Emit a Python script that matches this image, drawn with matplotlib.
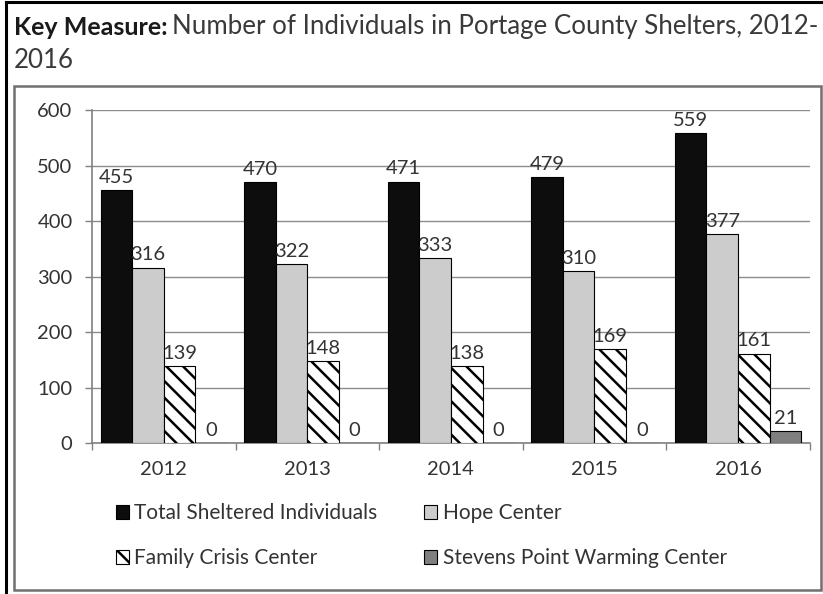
import matplotlib
matplotlib.use('Agg')
import matplotlib.pyplot as plt
import numpy as np
from matplotlib.patches import Rectangle
from matplotlib.lines import Line2D

# data
years = ['2012', '2013', '2014', '2015', '2016']
total = [455, 470, 471, 479, 559]
hope = [316, 322, 333, 310, 377]
family = [139, 148, 138, 169, 161]
warming = [0, 0, 0, 0, 21]

plt.rcParams['font.family'] = ['Lato', 'DejaVu Sans']
plt.rcParams['hatch.linewidth'] = 1.8

fig = plt.figure(figsize=(8.23, 5.94), dpi=100)
ax = fig.add_axes([0.1118, 0.2542, 0.8722, 0.5606])

x = np.arange(len(years))
w = 0.22
txt = '#333333'

b1 = ax.bar(x - 1.5*w, total, w, color='#0d0d0d', edgecolor='#000000', lw=0.8,
            label='Total Sheltered Individuals', zorder=3)
b2 = ax.bar(x - 0.5*w, hope, w, color='#cccccc', edgecolor='#000000', lw=0.8,
            label='Hope Center', zorder=3)
b3 = ax.bar(x + 0.5*w, family, w, color='white', edgecolor='#000000', lw=0.8,
            hatch='\\\\', label='Family Crisis Center', zorder=3)
b4 = ax.bar(x + 1.5*w, warming, w, color='#7f7f7f', edgecolor='#000000', lw=0.8,
            label='Stevens Point Warming Center', zorder=3)

for bars in (b1, b2, b3, b4):
    for r in bars:
        h = r.get_height()
        ax.annotate(str(int(h)), (r.get_x() + r.get_width()/2, h),
                    xytext=(0, 3), textcoords='offset points',
                    ha='center', va='bottom', fontsize=14.5, color=txt, zorder=4)

ax.set_xlim(-0.5, 4.5)
ax.set_ylim(0, 600)
ax.set_yticks(range(0, 601, 100))
ax.yaxis.grid(True, color='#8c8c8c', lw=1.0, zorder=0)
ax.set_axisbelow(True)

ax.set_xticks(x)
ax.set_xticklabels(years)
ax.set_xticks(np.arange(-0.5, 5, 1), minor=True)
ax.tick_params(axis='x', which='major', length=0, pad=13, labelsize=14.5, labelcolor=txt)
ax.tick_params(axis='x', which='minor', length=5, width=1, color='#808080', direction='out')
ax.tick_params(axis='y', length=5, width=1, color='#808080', labelsize=14.5,
               labelcolor=txt, pad=9)

for s in ('top', 'right'):
    ax.spines[s].set_visible(False)
for s in ('left', 'bottom'):
    ax.spines[s].set_color('#808080')
    ax.spines[s].set_linewidth(1.2)

# legend: row 1 Total, Hope; row 2 Family, Stevens
handles = [b1, b3, b2, b4]
labels = [h.get_label() for h in handles]
fig.legend(handles, labels, ncol=2, loc='upper left',
           bbox_to_anchor=(0.128, 0.17), frameon=False, fontsize=15,
           borderpad=0, handlelength=0.63, handleheight=0.63, handletextpad=0.25,
           labelspacing=1.2, columnspacing=2.25, labelcolor=txt)

# inner chart box and outer frame
fig.patches.append(Rectangle((0.017, 0.0067), 0.9806, 0.8483, transform=fig.transFigure,
                             fill=False, edgecolor='#707070', lw=1.8, zorder=0))
fig.lines.append(Line2D([0.0073, 0.0073], [0, 0.997], transform=fig.transFigure,
                        color='black', lw=2.2))
fig.lines.append(Line2D([0.0073, 1.0], [0.997, 0.997], transform=fig.transFigure,
                        color='black', lw=2.2))

# title
t1 = fig.text(0.017, 0.941, 'Key Measure:', fontsize=18, fontweight='bold',
              color='#1a1a1a', va='baseline')
ax.annotate('Number of Individuals in Portage County Shelters, 2012-',
            xy=(1, 0), xycoords=t1, xytext=(3, 0), textcoords='offset points',
            fontsize=18.6, color='#3a3a3a', va='bottom', annotation_clip=False)
fig.text(0.017, 0.886, '2016', fontsize=18.6, color='#3a3a3a', va='baseline')

fig.savefig('out.png', dpi=100)
